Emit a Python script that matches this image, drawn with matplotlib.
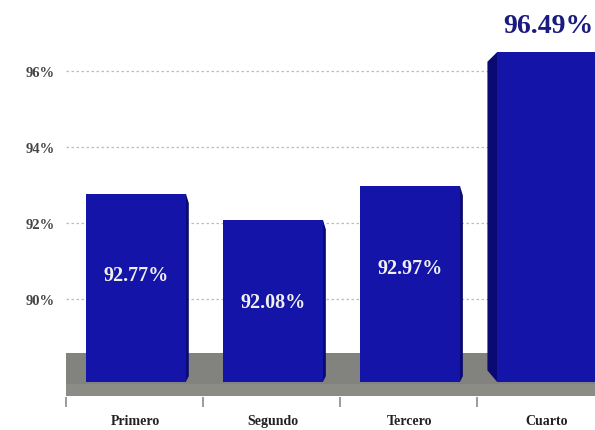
import matplotlib
matplotlib.use("Agg")
import matplotlib.pyplot as plt
from matplotlib.patches import Polygon, Rectangle
import numpy as np

categories = ["Primero", "Segundo", "Tercero", "Cuarto"]
values = [92.77, 92.08, 92.97, 96.49]
labels = ["92.77%", "92.08%", "92.97%", "96.49%"]
yticks = [90, 92, 94, 96]
ytick_labels = ["90%", "92%", "94%", "96%"]

base = 87.82
bar_color = "#1414a8"
side_color = "#0a0a72"
floor_color = "#82827e"
floor_front = "#8c8c86"

fig = plt.figure(figsize=(5.95, 4.31), dpi=100)
ax = fig.add_axes([66/595, 33/431, 1 - 66/595, 1 - 33/431])
ax.set_xlim(-0.51, 3.35)
ax.set_ylim(87.42, 97.89)

x = np.arange(len(categories))
w = 0.73

# gridlines
for yt in yticks:
    ax.axhline(yt, color="#bdbdbd", lw=0.9, ls=(0, (2, 2)), zorder=0)

# floor (3D gray band)
ax.add_patch(Rectangle((-0.51, 87.45), 3.86, 88.58 - 87.45,
                       facecolor=floor_color, edgecolor="none", zorder=1))
ax.add_patch(Rectangle((-0.51, 87.45), 3.86, 0.3,
                       facecolor=floor_front, edgecolor="none", zorder=1))

# bars
ax.bar(x, [v - base for v in values], bottom=base, width=w,
       color=bar_color, edgecolor="none", zorder=3)
depth = 0.07
dv = 0.25
for i, (xi, v) in enumerate(zip(x, values)):
    if i < 3:
        xr = xi + w / 2
        side = Polygon([(xr, base), (xr, v), (xr + depth * 0.3, v - dv), (xr + depth * 0.3, base + 0.15)],
                       closed=True, facecolor=side_color, edgecolor="none", zorder=2)
    else:
        xl = xi - w / 2
        side = Polygon([(xl, base), (xl, v), (xl - depth, v - dv), (xl - depth, base + 0.3)],
                       closed=True, facecolor=side_color, edgecolor="none", zorder=2)
    ax.add_patch(side)

# value labels
for i, (xi, v, lab) in enumerate(zip(x, values, labels)):
    if i < 3:
        ax.text(xi, v - 2.15, lab, ha="center", va="center", color="#f0f0f0",
                fontsize=14.5, fontweight="bold", family="Liberation Serif", zorder=5)
    else:
        ax.text(xi - 0.32, v + 0.7, lab, ha="left", va="center", color="#1a1a80",
                fontsize=20, fontweight="bold", family="Liberation Serif", zorder=5,
                clip_on=False)

# axes styling
for s in ["top", "right", "left", "bottom"]:
    ax.spines[s].set_visible(False)
ax.set_xticks(x)
ax.set_xticklabels(categories, family="Liberation Serif", fontweight="bold", fontsize=10, color="#222222")
ax.tick_params(axis="x", length=0, pad=12)
ax.set_xticks(np.arange(len(categories)) - 0.51 + 0.0, minor=True)
ax.tick_params(axis="x", which="minor", length=7, width=1.2, color="#8a8a8a", direction="out")
ax.set_yticks(yticks)
ax.set_yticklabels(ytick_labels, family="Liberation Serif", fontweight="bold", fontsize=10.5, color="#444444")
ax.tick_params(axis="y", length=0, pad=8)

fig.savefig("out.png", dpi=100)
